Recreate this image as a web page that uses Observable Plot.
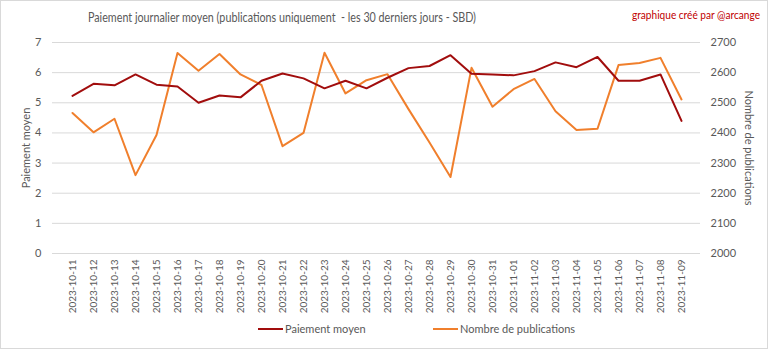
<!DOCTYPE html>
<html><head><meta charset="utf-8">
<script src="https://cdn.jsdelivr.net/npm/d3@7"></script>
<script src="https://cdn.jsdelivr.net/npm/@observablehq/plot@0.6"></script>
<style>
body{margin:0;background:#fff;}
#chart{position:relative;width:768px;height:349px;}
svg{font-family:Lato, "Open Sans", sans-serif;}
</style>
</head><body><div id="chart"></div>
<script>
const dates = ["2023-10-11","2023-10-12","2023-10-13","2023-10-14","2023-10-15","2023-10-16","2023-10-17","2023-10-18","2023-10-19","2023-10-20","2023-10-21","2023-10-22","2023-10-23","2023-10-24","2023-10-25","2023-10-26","2023-10-27","2023-10-28","2023-10-29","2023-10-30","2023-10-31","2023-11-01","2023-11-02","2023-11-03","2023-11-04","2023-11-05","2023-11-06","2023-11-07","2023-11-08","2023-11-09"];
const paiement = [5.23,5.63,5.58,5.94,5.60,5.54,5.00,5.24,5.18,5.73,5.97,5.81,5.48,5.73,5.48,5.83,6.15,6.22,6.58,5.96,5.94,5.91,6.05,6.34,6.18,6.52,5.73,5.73,5.94,4.40];
const publications = [2466,2402,2447,2260,2393,2665,2606,2662,2594,2559,2356,2400,2666,2531,2575,2595,2479,2368,2254,2616,2487,2545,2579,2472,2410,2414,2625,2632,2649,2511];
const leftTicks = [0,1,2,3,4,5,6,7];
const rightTicks = [2000,2100,2200,2300,2400,2500,2600,2700];
const title = "Paiement journalier moyen (publications uniquement  - les 30 derniers jours - SBD)";
const credit = "graphique créé par @arcange";
const seriesNames = ["Paiement moyen","Nombre de publications"];
const colors = ["#a10d0d","#f07f2c"];

const toLeft = v => (v - 2000) / 100;
const rows = dates.map((d,i)=>({date:d, pay:paiement[i], pub:toLeft(publications[i])}));

const W = 768, H = 349;
const plot = Plot.plot({
  width: W, height: H,
  marginLeft: 52, marginRight: 68, marginTop: 42, marginBottom: 96,
  style: {fontFamily: "Lato, 'Open Sans', sans-serif", fontSize: "10px", color: "#595959", background: "#fff"},
  x: {type: "point", domain: dates, padding: 0.5, label: null},
  y: {domain: [0,7], label: null},
  marks: [
    Plot.ruleY(leftTicks, {stroke: "#d9d9d9", strokeWidth: 1}),
    Plot.axisY(leftTicks, {anchor: "left", tickSize: 0, tickPadding: 11, fontSize: 11, label: null, fill: "#595959"}),
    Plot.axisY(leftTicks, {anchor: "right", tickSize: 0, tickPadding: 10, fontSize: 11, label: null, fill: "#595959",
      tickFormat: (d,i) => String(rightTicks[i])}),
    Plot.axisX(dates, {tickSize: 0, tickRotate: -90, tickPadding: 6, fontSize: 10, label: null, fill: "#595959"}),
    Plot.line(rows, {x: "date", y: "pub", stroke: colors[1], strokeWidth: 2}),
    Plot.line(rows, {x: "date", y: "pay", stroke: colors[0], strokeWidth: 2})
  ]
});
document.getElementById("chart").appendChild(plot);

const svg = d3.select(plot);
svg.append("rect").attr("x",0.5).attr("y",0.5).attr("width",W-1).attr("height",H-1)
  .attr("fill","none").attr("stroke","#d9d9d9");
svg.append("text").attr("x",88).attr("y",22).attr("text-anchor","start")
  .attr("font-size",12.5).attr("fill","#595959")
  .attr("textLength",388).attr("lengthAdjust","spacingAndGlyphs").text(title);
svg.append("text").attr("x",632).attr("y",19).attr("text-anchor","start")
  .attr("font-size",10.5).attr("fill","#c00000")
  .attr("textLength",128).attr("lengthAdjust","spacingAndGlyphs").text(credit);
svg.append("text").attr("transform","translate(30,148) rotate(-90)").attr("text-anchor","middle")
  .attr("font-size",11).attr("fill","#595959").text("Paiement moyen");
svg.append("text").attr("transform","translate(745,148) rotate(90)").attr("text-anchor","middle")
  .attr("font-size",11).attr("fill","#595959").text("Nombre de publications");
const lg = svg.append("g").attr("font-size",11).attr("fill","#595959").attr("text-anchor","start");
const lx = [258, 433];
seriesNames.forEach((n,i)=>{
  lg.append("line").attr("x1",lx[i]).attr("x2",lx[i]+25).attr("y1",329).attr("y2",329)
    .attr("stroke",colors[i]).attr("stroke-width",2);
  lg.append("text").attr("x",lx[i]+27).attr("y",333).attr("text-anchor","start").text(n);
});
</script>
</body></html>
